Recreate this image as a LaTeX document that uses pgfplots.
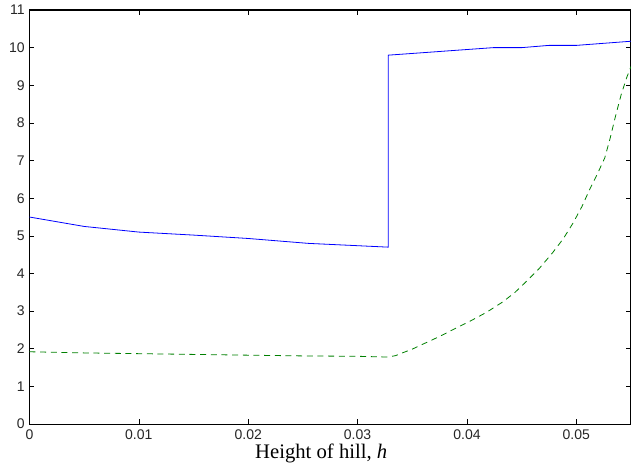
\documentclass[border=0pt]{standalone}
\usepackage{pgfplots}
\pgfplotsset{compat=1.18}
\usepackage{fontspec}
\setmainfont{Liberation Serif}
\newfontfamily\tickfont{Liberation Sans}
\begin{document}
\begin{tikzpicture}
\begin{axis}[
  scale only axis,
  width=451.1pt, height=310.5pt,
  xmin=0, xmax=0.055, ymin=0, ymax=11,
  xtick={0,0.01,0.02,0.03,0.04,0.05},
  xticklabels={0,0.01,0.02,0.03,0.04,0.05},
  ytick={0,1,2,3,4,5,6,7,8,9,10,11},
  yticklabels={0,1,2,3,4,5,6,7,8,9,10,11},
  scaled x ticks=false,
  tick align=inside,
  tick pos=both,
  major tick length=3.75pt,
  tick style={black, line width=0.5pt},
  axis line style={black, line width=0.8pt},
  ticklabel style={font=\tickfont\fontsize{10.5pt}{12pt}\selectfont, text=black!85},
  xticklabel style={yshift=-1pt},
  xlabel={Height of hill, \textit{h}},
  xlabel style={font=\fontsize{15.5pt}{17pt}\selectfont, at={(axis description cs:0.485,0)}, anchor=base, yshift=-25.5pt},
  clip=true,
]
\addplot[color={rgb,255:red,0;green,0;blue,255}, line width=0.6pt] coordinates {
 (0,5.5) (0.005,5.25) (0.01,5.1) (0.015,5.02) (0.02,4.93) (0.0255,4.8) (0.0328,4.7)
 (0.0328,9.8) (0.0424,10.0) (0.045,10.0) (0.0475,10.06) (0.05,10.06) (0.055,10.17)
};
\addplot[color={rgb,255:red,0;green,128;blue,0}, line width=0.6pt, dash pattern=on 4.5pt off 3.5pt] coordinates {
 (0,1.92) (0.005,1.89) (0.01,1.87) (0.015,1.85) (0.02,1.83) (0.025,1.81) (0.03,1.8) (0.0328,1.78)
 (0.0335,1.82) (0.034,1.88) (0.035,1.99) (0.0358,2.1) (0.037,2.26) (0.038,2.4) (0.039,2.55) (0.0402,2.72)
 (0.0418,2.97) (0.0433,3.25) (0.0444,3.5) (0.0454,3.78) (0.0466,4.13) (0.0478,4.54)
 (0.0488,4.92) (0.0497,5.34) (0.0505,5.77) (0.0512,6.22) (0.0519,6.63) (0.0526,7.07) (0.0531,7.6)
 (0.0536,8.2) (0.0541,8.75) (0.0546,9.2) (0.055,9.5)
};
\end{axis}
\pgfresetboundingbox
\path[use as bounding box] ([xshift=-22.1pt,yshift=-36pt]current axis.south west) rectangle ([yshift=7.5pt]current axis.north east);
\end{tikzpicture}
\end{document}
